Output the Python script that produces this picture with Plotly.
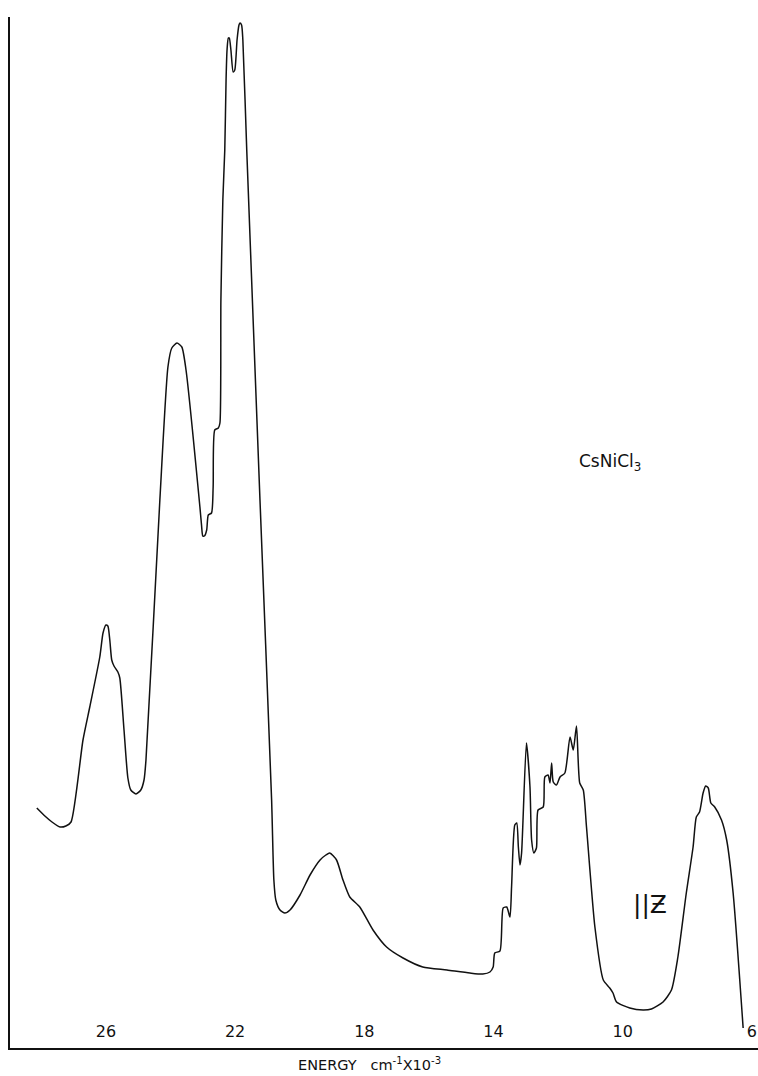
import plotly.graph_objects as go

# Polarised (||Z) absorption spectrum of CsNiCl3; energy in units of 1000 cm^-1
energy = [
    28.14, 27.89, 27.67, 27.42, 27.24, 27.08, 26.71, 26.50, 26.19, 26.09,
    26.00, 25.94, 25.88, 25.82, 25.75, 25.63, 25.57, 25.44, 25.32, 25.23,
    25.07, 24.92, 24.82, 24.76, 24.33, 24.08, 23.96, 23.80, 23.65, 23.52,
    23.09, 23.04, 23.00, 22.95, 22.88, 22.83, 22.73, 22.68, 22.63, 22.52,
    22.47, 22.44, 22.38, 22.32, 22.28, 22.25, 22.21, 22.18, 22.13, 22.06,
    22.01, 21.94, 21.88, 21.85, 21.80, 21.76, 21.64, 21.23, 20.87, 20.80,
    20.74, 20.61, 20.46, 20.30, 19.99, 19.68, 19.37, 19.19, 19.07, 18.86,
    18.66, 18.45, 18.14, 17.73, 17.31, 16.80, 16.19, 15.44, 14.73, 14.33,
    14.11, 14.01, 13.96, 13.80, 13.70, 13.59, 13.49, 13.44, 13.34, 13.28,
    13.23, 13.18, 13.13, 12.98, 12.87, 12.82, 12.75, 12.67, 12.62, 12.46,
    12.41, 12.31, 12.25, 12.20, 12.15, 12.05, 11.94, 11.79, 11.63, 11.53,
    11.43, 11.33, 11.22, 11.12, 10.86, 10.60, 10.40, 10.30, 10.19, 9.78,
    9.37, 9.11, 8.75, 8.49, 8.29, 8.03, 7.82, 7.72, 7.62, 7.51,
    7.43, 7.35, 7.27, 7.15, 6.94, 6.78, 6.58, 6.27,
]

absorbance = [
    0.240, 0.232, 0.226, 0.221, 0.222, 0.226, 0.308, 0.341, 0.391, 0.415,
    0.423, 0.422, 0.408, 0.388, 0.382, 0.376, 0.370, 0.318, 0.270, 0.258,
    0.254, 0.258, 0.268, 0.288, 0.548, 0.681, 0.700, 0.705, 0.701, 0.678,
    0.541, 0.523, 0.512, 0.512, 0.518, 0.533, 0.535, 0.561, 0.618, 0.620,
    0.625, 0.748, 0.848, 0.898, 0.968, 0.998, 1.010, 1.010, 0.998, 0.976,
    0.978, 1.008, 1.023, 1.025, 1.023, 1.008, 0.898, 0.548, 0.248, 0.168,
    0.148, 0.138, 0.135, 0.138, 0.153, 0.173, 0.188, 0.193, 0.195, 0.188,
    0.168, 0.151, 0.141, 0.118, 0.101, 0.090, 0.081, 0.078, 0.075, 0.074,
    0.076, 0.081, 0.095, 0.097, 0.140, 0.141, 0.131, 0.161, 0.223, 0.225,
    0.201, 0.183, 0.195, 0.305, 0.261, 0.208, 0.195, 0.200, 0.238, 0.241,
    0.271, 0.273, 0.265, 0.285, 0.266, 0.263, 0.271, 0.275, 0.311, 0.298,
    0.322, 0.265, 0.258, 0.221, 0.121, 0.068, 0.060, 0.055, 0.046, 0.040,
    0.038, 0.039, 0.046, 0.058, 0.091, 0.155, 0.201, 0.231, 0.236, 0.255,
    0.262, 0.260, 0.245, 0.241, 0.228, 0.208, 0.155, 0.020,
]

tick_values = [26, 22, 18, 14, 10, 6]
tick_labels = ["26", "22", "18", "14", "10", "6"]

ink = "#111111"
font_family = "DejaVu Sans, Liberation Sans, sans-serif"

fig = go.Figure()
fig.add_trace(go.Scatter(
    x=energy, y=absorbance, mode="lines",
    line=dict(color=ink, width=1.5, shape="spline", smoothing=0.6),
    hoverinfo="skip", showlegend=False,
))

fig.update_layout(
    width=758, height=1076,
    margin=dict(l=10, r=0, t=17, b=28),
    paper_bgcolor="white", plot_bgcolor="white",
    font=dict(family=font_family, color=ink),
    xaxis=dict(
        range=[28.97, 5.81], showgrid=False, zeroline=False,
        showline=True, linecolor=ink, linewidth=1.5,
        tickmode="array", tickvals=tick_values, ticktext=tick_labels,
        ticks="inside", ticklen=8, tickcolor="rgba(0,0,0,0)",
        ticklabelposition="inside",
        tickfont=dict(size=16, family=font_family, color=ink),
    ),
    yaxis=dict(
        range=[0, 1.031], showgrid=False, zeroline=False,
        showline=True, linecolor=ink, linewidth=1.5,
        showticklabels=False, ticks="",
    ),
    annotations=[
        dict(text="ENERGY&nbsp;&nbsp;&nbsp;cm<sup>-1</sup>X10<sup>-3</sup>",
             xref="paper", yref="paper", x=0.48, y=0, yanchor="top",
             yshift=-5, showarrow=False,
             font=dict(size=14.5, family=font_family, color=ink)),
        dict(text="CsNiCl<sub>3</sub>", xref="x", yref="y",
             x=10.40, y=0.586, showarrow=False,
             font=dict(size=17, family=font_family, color=ink)),
        dict(text="||Ƶ", xref="x", yref="y",
             x=9.16, y=0.144, showarrow=False,
             font=dict(size=25, family=font_family, color=ink)),
    ],
)

fig.write_html("out.html")
